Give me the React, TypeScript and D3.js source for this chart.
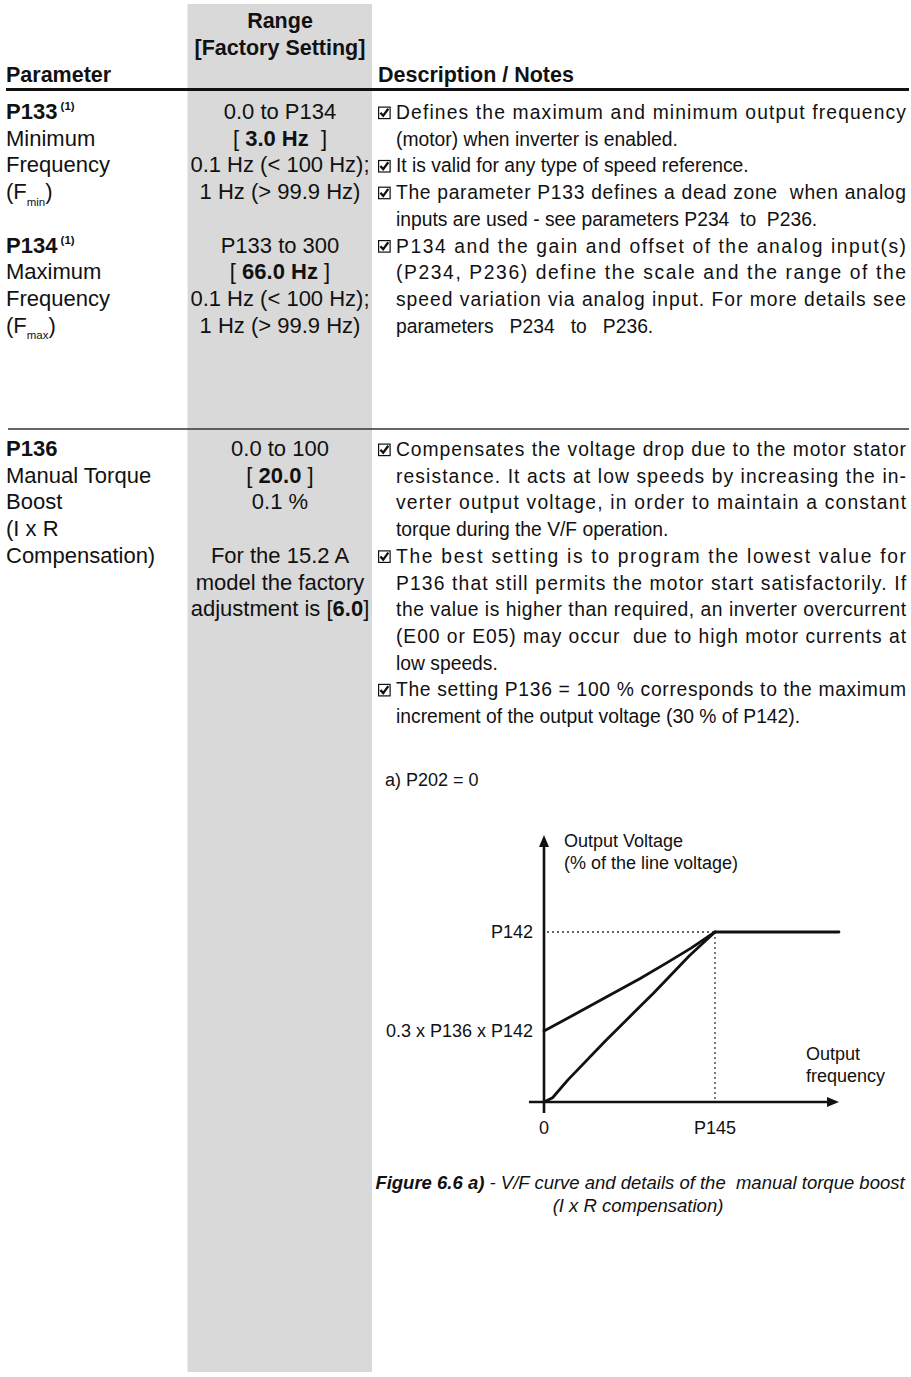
import React from 'react';
import * as d3 from 'd3';

const FONT = "'Liberation Sans', Arial, Helvetica, sans-serif";
const W = 911;
const H = 1377;
const NB = '\u00A0';

type Seg = { t: string; b?: boolean; sub?: boolean; sup?: boolean; i?: boolean };
type Line = { line: number; segs: Seg[] };
type DescLine = { t: string; check?: boolean; justify?: boolean };

// ---------- table text ----------
const headerRangeLines = ['Range', '[Factory Setting]'];
const headerParam = 'Parameter';
const headerDesc = 'Description / Notes';

const row1Param: Line[] = [
  { line: 0, segs: [{ t: 'P133', b: true }, { t: ' (1)', b: true, sup: true }] },
  { line: 1, segs: [{ t: 'Minimum' }] },
  { line: 2, segs: [{ t: 'Frequency' }] },
  { line: 3, segs: [{ t: '(F' }, { t: 'min', sub: true }, { t: ')' }] },
  { line: 5, segs: [{ t: 'P134', b: true }, { t: ' (1)', b: true, sup: true }] },
  { line: 6, segs: [{ t: 'Maximum' }] },
  { line: 7, segs: [{ t: 'Frequency' }] },
  { line: 8, segs: [{ t: '(F' }, { t: 'max', sub: true }, { t: ')' }] },
];
const row1Range: Line[] = [
  { line: 0, segs: [{ t: '0.0 to P134' }] },
  { line: 1, segs: [{ t: '[ ' }, { t: '3.0 Hz', b: true }, { t: ' ' + NB + ']' }] },
  { line: 2, segs: [{ t: '0.1 Hz (< 100 Hz);' }] },
  { line: 3, segs: [{ t: '1 Hz (> 99.9 Hz)' }] },
  { line: 5, segs: [{ t: 'P133 to 300' }] },
  { line: 6, segs: [{ t: '[ ' }, { t: '66.0 Hz', b: true }, { t: ' ]' }] },
  { line: 7, segs: [{ t: '0.1 Hz (< 100 Hz);' }] },
  { line: 8, segs: [{ t: '1 Hz (> 99.9 Hz)' }] },
];
const row1Desc: DescLine[] = [
  { t: 'Defines the maximum and minimum output frequency', check: true, justify: true },
  { t: '(motor) when inverter is enabled.' },
  { t: 'It is valid for any type of speed reference.', check: true },
  { t: `The parameter P133 defines a dead zone${NB} when analog`, check: true, justify: true },
  { t: `inputs are used - see parameters P234${NB} to${NB} P236.` },
  { t: 'P134 and the gain and offset of the analog input(s)', check: true, justify: true },
  { t: '(P234, P236) define the scale and the range of the', justify: true },
  { t: 'speed variation via analog input. For more details see', justify: true },
  { t: `parameters${NB}${NB} P234${NB}${NB} to${NB}${NB} P236.` },
];

const row2Param: Line[] = [
  { line: 0, segs: [{ t: 'P136', b: true }] },
  { line: 1, segs: [{ t: 'Manual Torque' }] },
  { line: 2, segs: [{ t: 'Boost' }] },
  { line: 3, segs: [{ t: '(I x R' }] },
  { line: 4, segs: [{ t: 'Compensation)' }] },
];
const row2Range: Line[] = [
  { line: 0, segs: [{ t: '0.0 to 100' }] },
  { line: 1, segs: [{ t: '[ ' }, { t: '20.0', b: true }, { t: ' ]' }] },
  { line: 2, segs: [{ t: '0.1 %' }] },
  { line: 4, segs: [{ t: 'For the 15.2 A' }] },
  { line: 5, segs: [{ t: 'model the factory' }] },
  { line: 6, segs: [{ t: 'adjustment is [' }, { t: '6.0', b: true }, { t: ']' }] },
];
const row2Desc: DescLine[] = [
  { t: 'Compensates the voltage drop due to the motor stator', check: true, justify: true },
  { t: 'resistance. It acts at low speeds by increasing the in-', justify: true },
  { t: 'verter output voltage, in order to maintain a constant', justify: true },
  { t: 'torque during the V/F operation.' },
  { t: 'The best setting is to program the lowest value for', check: true, justify: true },
  { t: 'P136 that still permits the motor start satisfactorily. If', justify: true },
  { t: 'the value is higher than required, an inverter overcurrent', justify: true },
  { t: `(E00 or E05) may occur${NB} due to high motor currents at`, justify: true },
  { t: 'low speeds.' },
  { t: 'The setting P136 = 100 % corresponds to the maximum', check: true, justify: true },
  { t: 'increment of the output voltage (30 % of P142).' },
];

// ---------- figure ----------
const figureLabel = 'a) P202 = 0';
const yAxisTitle = ['Output Voltage', '(% of the line voltage)'];
const xAxisTitle = ['Output', 'frequency'];
// x in % of P145, y in % of P142
const yTickLabels = [
  { value: 100, label: 'P142' },
  { value: 41.8, label: '0.3 x P136 x P142' },
];
const xTickLabels = [
  { value: 0, label: '0' },
  { value: 100, label: 'P145' },
];
const boostCurve: [number, number][] = [
  [0, 41.8], [17, 51], [37, 62], [56, 72.5], [72, 82], [86, 90.5], [100, 100],
];
const linearCurve: [number, number][] = [
  [0, 0], [5, 2.5], [14, 13], [36, 36], [52, 52], [64, 64], [85, 86], [100, 100],
];
const saturationLine: [number, number][] = [[100, 100], [172.5, 100]];
const xAxisExtent: [number, number] = [-8.8, 172.5];
const yAxisExtent: [number, number] = [-6.5, 157];

const captionBold = 'Figure 6.6 a)';
const captionRest = ` - V/F curve and details of the${NB} manual torque boost`;
const captionLine2 = '(I x R compensation)';

// ---------- layout ----------
const INK = '#111';
const GRAY = '#d9d9d9';
const COL_X = 6;
const RANGE_CX = 280;
const CHECK_X = 378;
const DESC_X = 396;
const DESC_R = 906;
const LH = 26.7;
const ROW1_Y = 119;
const ROW2_Y = 456;
const BODY = 22;
const DESC = 19.3;
const HEAD = 21.5;
const CHART_FS = 18;

function renderSegs(segs: Seg[], size: number) {
  let cur = 0;
  return segs.map((s, k) => {
    const target = s.sup ? -size * 0.4 : s.sub ? size * 0.3 : 0;
    const dy = target - cur;
    cur = target;
    return (
      <tspan
        key={k}
        dy={dy}
        fontWeight={s.b ? 'bold' : undefined}
        fontStyle={s.i ? 'italic' : undefined}
        fontSize={s.sup || s.sub ? size * 0.52 : undefined}
      >
        {s.t}
      </tspan>
    );
  });
}

function CheckBox({ x, y }: { x: number; y: number }) {
  return (
    <g transform={`translate(${x},${y - 12.5})`}>
      <rect x={0.6} y={0.6} width={11.5} height={11.5} fill="none" stroke={INK} strokeWidth={1.2} />
      <path d="M2.4 6.2 L5.2 9.3 L10.3 2.3" fill="none" stroke={INK} strokeWidth={2.3} />
    </g>
  );
}

function DescBlock({ lines, y0 }: { lines: DescLine[]; y0: number }) {
  return (
    <g fontSize={DESC}>
      {lines.map((l, i) => {
        const y = y0 + i * LH;
        return (
          <g key={i}>
            {l.check && <CheckBox x={CHECK_X} y={y} />}
            <text
              x={DESC_X}
              y={y}
              textLength={l.justify ? DESC_R - DESC_X : undefined}
              lengthAdjust={l.justify ? 'spacing' : undefined}
            >
              {l.t}
            </text>
          </g>
        );
      })}
    </g>
  );
}

export default function App() {
  const x = d3.scaleLinear().domain([0, 100]).range([544, 715]);
  const y = d3.scaleLinear().domain([0, 100]).range([1102, 932]);
  const line = d3
    .line<[number, number]>()
    .x((d) => x(d[0]))
    .y((d) => y(d[1]));

  const xa0 = x(xAxisExtent[0]);
  const xa1 = x(xAxisExtent[1]);
  const ya0 = y(yAxisExtent[0]);
  const ya1 = y(yAxisExtent[1]);

  return (
    <svg
      width={W}
      height={H}
      style={{ position: 'absolute', left: 0, top: 0 }}
      fontFamily={FONT}
      fill={INK}
    >
      <rect x={0} y={0} width={W} height={H} fill="#fff" />
      {/* shaded range column */}
      <rect x={187.5} y={4} width={184.5} height={1368} fill={GRAY} />

      {/* header */}
      <g fontSize={HEAD} fontWeight="bold">
        {headerRangeLines.map((t, i) => (
          <text key={i} x={RANGE_CX} y={28 + i * 26.5} textAnchor="middle">
            {t}
          </text>
        ))}
        <text x={COL_X} y={82}>{headerParam}</text>
        <text x={CHECK_X} y={82}>{headerDesc}</text>
      </g>
      <line x1={6} x2={909} y1={89.5} y2={89.5} stroke={INK} strokeWidth={3} />

      {/* row 1 */}
      <g fontSize={BODY}>
        {row1Param.map((l, i) => (
          <text key={i} x={COL_X} y={ROW1_Y + l.line * LH}>{renderSegs(l.segs, BODY)}</text>
        ))}
        {row1Range.map((l, i) => (
          <text key={i} x={RANGE_CX} y={ROW1_Y + l.line * LH} textAnchor="middle">
            {renderSegs(l.segs, BODY)}
          </text>
        ))}
      </g>
      <DescBlock lines={row1Desc} y0={ROW1_Y} />

      <line x1={8} x2={909} y1={429} y2={429} stroke="#333" strokeWidth={1.3} />

      {/* row 2 */}
      <g fontSize={BODY}>
        {row2Param.map((l, i) => (
          <text key={i} x={COL_X} y={ROW2_Y + l.line * LH}>{renderSegs(l.segs, BODY)}</text>
        ))}
        {row2Range.map((l, i) => (
          <text key={i} x={RANGE_CX} y={ROW2_Y + l.line * LH} textAnchor="middle">
            {renderSegs(l.segs, BODY)}
          </text>
        ))}
      </g>
      <DescBlock lines={row2Desc} y0={ROW2_Y} />

      {/* figure */}
      <g fontSize={CHART_FS}>
        <text x={385} y={786}>{figureLabel}</text>
        {yAxisTitle.map((t, i) => (
          <text key={i} x={564} y={847 + i * 22}>{t}</text>
        ))}
        {xAxisTitle.map((t, i) => (
          <text key={i} x={806} y={1060 + i * 22}>{t}</text>
        ))}
        {yTickLabels.map((d, i) => (
          <text key={i} x={x(0) - 11} y={y(d.value) + 6} textAnchor="end">{d.label}</text>
        ))}
        {xTickLabels.map((d, i) => (
          <text key={i} x={x(d.value)} y={y(0) + 32} textAnchor="middle">{d.label}</text>
        ))}
      </g>

      {/* dotted guides */}
      <g stroke="#333" strokeWidth={1.3} strokeDasharray="2 3" fill="none">
        <line x1={x(0) + 3} x2={x(100)} y1={y(100)} y2={y(100)} />
        <line x1={x(100)} x2={x(100)} y1={y(100)} y2={y(0)} />
      </g>

      {/* axes */}
      <g stroke={INK} strokeWidth={2.6} fill="none">
        <line x1={xa0} x2={xa1 - 8} y1={y(0)} y2={y(0)} />
        <line x1={x(0)} x2={x(0)} y1={ya0} y2={ya1 + 8} />
      </g>
      <polygon points={`${xa1},${y(0)} ${xa1 - 12},${y(0) - 5} ${xa1 - 12},${y(0) + 5}`} fill={INK} />
      <polygon points={`${x(0)},${ya1} ${x(0) - 5},${ya1 + 12} ${x(0) + 5},${ya1 + 12}`} fill={INK} />

      {/* curves */}
      <g stroke={INK} strokeWidth={2.8} fill="none" strokeLinejoin="round" strokeLinecap="round">
        <path d={line(boostCurve) || ''} />
        <path d={line(linearCurve) || ''} />
        <path d={line(saturationLine) || ''} />
      </g>

      {/* caption */}
      <g fontSize={18.5} fontStyle="italic">
        <text x={640} y={1189} textAnchor="middle">
          <tspan fontWeight="bold">{captionBold}</tspan>
          <tspan>{captionRest}</tspan>
        </text>
        <text x={638} y={1212} textAnchor="middle">{captionLine2}</text>
      </g>
    </svg>
  );
}
